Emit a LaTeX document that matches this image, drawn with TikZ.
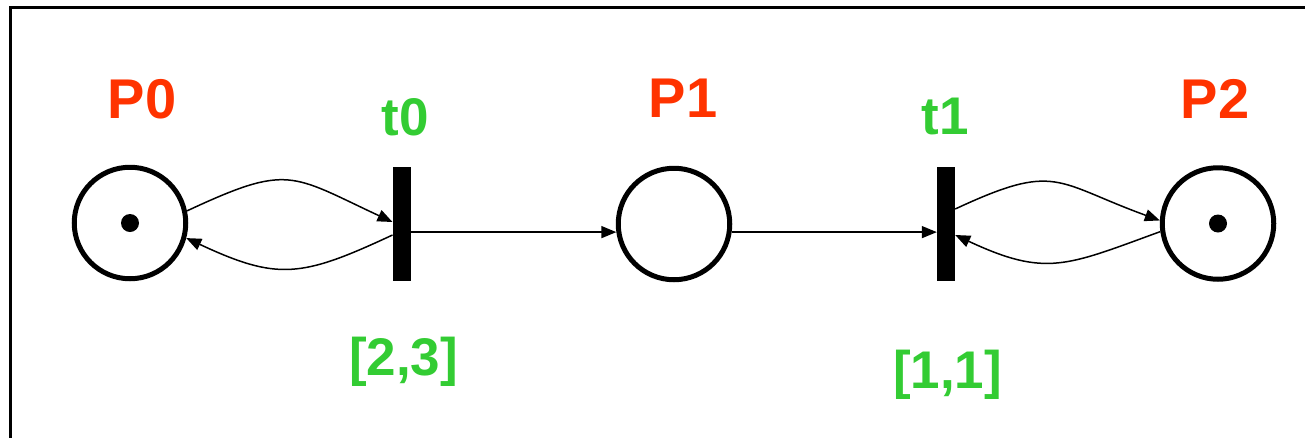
\documentclass[tikz,border=0pt]{standalone}
\usepackage{fontspec}
\setmainfont{Liberation Sans}
\usetikzlibrary{arrows.meta}
\definecolor{placered}{RGB}{255,51,0}
\definecolor{transgreen}{RGB}{51,204,51}
\begin{document}
\begin{tikzpicture}[x=1pt,y=1pt,
  place/.style={circle,draw,line width=5pt,minimum size=111.5pt,inner sep=0pt},
  token/.style={circle,fill,minimum size=18pt,inner sep=0pt},
  tbar/.style={rectangle,fill,minimum width=18pt,minimum height=114pt,inner sep=0pt},
  plabel/.style={text=placered,font=\fontsize{56}{60}\selectfont\bfseries,anchor=base,inner sep=0pt},
  tlabel/.style={text=transgreen,font=\fontsize{53}{58}\selectfont\bfseries,anchor=base,inner sep=0pt},
  arc/.style={line width=1.5pt,-{Triangle[length=15pt,width=12pt]}},
]
\useasboundingbox (0,0) rectangle (1305,-437);
\clip (0,0) rectangle (1305,-437);
\draw[line width=3pt] (10,-7.5) rectangle (1340,-470);
% places
\node[place] (P0) at (130,-223) {};
\node[place] (P1) at (674,-224) {};
\node[place] (P2) at (1218,-223.5) {};
\node[token] (m0) at (P0) {};
\node[token] (m2) at (P2) {};
% transitions
\node[tbar] (t0) at (401.7,-224) {};
\node[tbar] (t1) at (946,-224) {};
% arcs
\draw[arc] (P0.12) to[out=25,in=155,looseness=1.4] ([yshift=2pt]t0.west);
\draw[arc] ([yshift=-11pt]t0.west) to[out=205,in=-25,looseness=1.25] (P0.-15);
\draw[arc] (t0.east |- P1.188) -- (P1.188);
\draw[arc] (P1.-8) -- (t1.west |- P1.-8);
\draw[arc] ([yshift=15pt]t1.east) to[out=25,in=160,looseness=1.4] (P2.177);
\draw[arc] (P2.188) to[out=200,in=-25,looseness=1.25] ([yshift=-11pt]t1.east);
% labels
\node[plabel] (lP0) at (142,-118) {P0};
\node[plabel] (lP1) at (683,-117) {P1};
\node[plabel] (lP2) at (1215,-118) {P2};
\node[tlabel] (lt0) at (405,-135) {t0};
\node[tlabel] (lt1) at (945,-134) {t1};
\node[tlabel] (i0) at (403.5,-375) {[2,3]};
\node[tlabel] (i1) at (947.5,-388) {[1,1]};
\end{tikzpicture}
\end{document}
